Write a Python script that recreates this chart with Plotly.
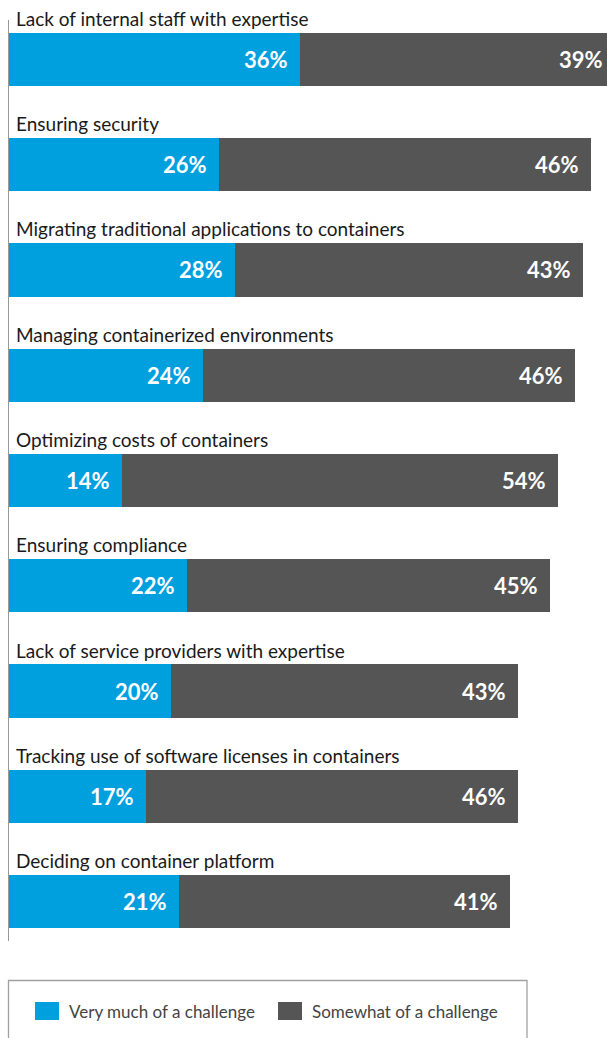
import plotly.graph_objects as go

categories = [
    "Lack of internal staff with expertise",
    "Ensuring security",
    "Migrating traditional applications to containers",
    "Managing containerized environments",
    "Optimizing costs of containers",
    "Ensuring compliance",
    "Lack of service providers with expertise",
    "Tracking use of software licenses in containers",
    "Deciding on container platform",
]
very_much = [36, 26, 28, 24, 14, 22, 20, 17, 21]
somewhat = [39, 46, 43, 46, 54, 45, 43, 46, 41]
series_names = ["Very much of a challenge", "Somewhat of a challenge"]
series_colors = ["#00A0DF", "#555555"]

FONT = "Lato"
W, H = 607, 1038
ML, MR, MT, MB = 9, 0, 20, 97
px_per_unit = 8.08
xmax = (W - ML - MR) / px_per_unit

fig = go.Figure()
for name, vals, col in zip(series_names, [very_much, somewhat], series_colors):
    fig.add_trace(go.Bar(
        y=categories, x=vals, name=name, orientation="h",
        marker=dict(color=col, line=dict(width=0)),
        showlegend=False, hoverinfo="x+y+name",
    ))

annotations = []
for i, cat in enumerate(categories):
    # category label above the bar
    annotations.append(dict(
        x=0, y=cat, xref="x", yref="y", text=cat, showarrow=False,
        xanchor="left", yanchor="middle", xshift=5, yshift=41,
        font=dict(family=FONT, size=19, color="#1a1a1a"),
    ))
    # value labels (paper x so the clipped first bar still shows its label)
    ends = [very_much[i], very_much[i] + somewhat[i]]
    for v, e in zip([very_much[i], somewhat[i]], ends):
        annotations.append(dict(
            x=e / xmax, y=cat, xref="paper", yref="y", text=f"<b>{v}%</b>",
            showarrow=False, xanchor="right", yanchor="middle", xshift=-10,
            font=dict(family=FONT, size=22, color="white"),
        ))

# custom legend
plot_h = H - MT - MB
def py(pix):
    return 1 - (pix - MT) / plot_h
def px(pix):
    return (pix - ML) / (W - ML - MR)

shapes = [dict(type="rect", xref="paper", yref="paper",
               x0=px(8.5), x1=px(527), y0=py(1045), y1=py(980.5),
               line=dict(color="#a0a0a0", width=1.3), fillcolor="rgba(0,0,0,0)")]
leg_x = [35, 278]
for name, col, lx in zip(series_names, series_colors, leg_x):
    shapes.append(dict(type="rect", xref="paper", yref="paper",
                       x0=px(lx), x1=px(lx + 24), y0=py(1020), y1=py(1002),
                       line=dict(width=0), fillcolor=col))
    annotations.append(dict(x=px(lx + 32), y=py(1011), xref="paper", yref="paper",
                            text=name, showarrow=False, xanchor="left", yanchor="middle",
                            font=dict(family=FONT, size=17, color="#444444")))

fig.update_layout(
    width=W, height=H,
    margin=dict(l=ML, r=MR, t=MT, b=MB, pad=0),
    barmode="stack", bargap=0.496,
    paper_bgcolor="white", plot_bgcolor="white",
    xaxis=dict(range=[0, xmax], visible=False, fixedrange=True),
    yaxis=dict(range=[8.375, -0.375], showticklabels=False, ticks="",
               showgrid=False, zeroline=False, fixedrange=True,
               showline=True, linecolor="#999999", linewidth=1.3, mirror=False),
    annotations=annotations, shapes=shapes,
    font=dict(family=FONT),
)

fig.write_html("out.html", config={"displayModeBar": False},
               post_script="document.body.style.margin='0';document.body.style.overflow='hidden';")
